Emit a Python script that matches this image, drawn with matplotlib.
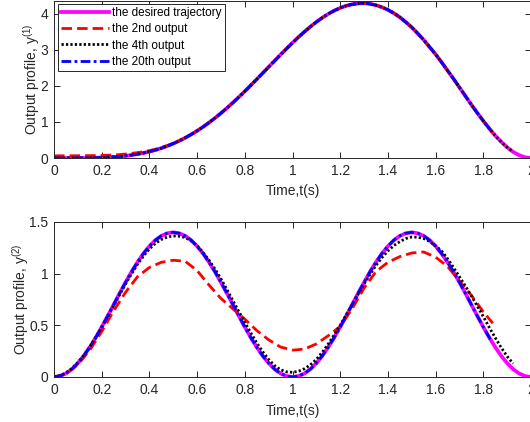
import matplotlib
matplotlib.use("Agg")
import matplotlib.pyplot as plt

plt.rcParams['font.family'] = ['Liberation Sans', 'DejaVu Sans']
plt.rcParams['mathtext.default'] = 'regular'

# ---------------- data ----------------
# fine time grid (step 0.025 s) for the desired trajectories
t_fine = [round(0.025 * k, 3) for k in range(81)]

# top panel: y^(1) desired
y1_desired = [0.000, 0.000, 0.000, 0.000, 0.001, 0.002, 0.004, 0.007, 0.012, 0.019,
              0.029, 0.042, 0.059, 0.081, 0.107, 0.139, 0.177, 0.221, 0.273, 0.332,
              0.400, 0.475, 0.560, 0.653, 0.754, 0.864, 0.983, 1.110, 1.245, 1.387,
              1.536, 1.692, 1.852, 2.018, 2.186, 2.357, 2.528, 2.700, 2.870, 3.037,
              3.200, 3.357, 3.506, 3.647, 3.777, 3.896, 4.001, 4.093, 4.168, 4.227,
              4.268, 4.290, 4.298, 4.280, 4.244, 4.188, 4.115, 4.022, 3.910, 3.775,
              3.630, 3.460, 3.280, 3.080, 2.880, 2.660, 2.430, 2.200, 1.960, 1.720,
              1.480, 1.250, 1.030, 0.820, 0.620, 0.450, 0.295, 0.170, 0.078, 0.020,
              0.000]

# top panel: 2nd output differs only at the start, stops at 1.84 s
y1_out2_start = [0.060, 0.061, 0.062, 0.062, 0.063, 0.064, 0.066, 0.068, 0.072, 0.077,
                 0.085, 0.095, 0.110, 0.128, 0.150, 0.175, 0.205, 0.243, 0.290, 0.345,
                 0.405]
t_out2 = t_fine[:74] + [1.84]
y1_out2 = y1_out2_start + y1_desired[21:74] + [0.700]

t_out4 = t_fine[:78] + [1.925]
y1_out4 = y1_desired[:78] + [0.170]

t_out20 = t_fine[:74] + [1.835]
y1_out20 = y1_desired[:74] + [0.740]

# bottom panel: y^(2)
y2_desired = [0.000, 0.009, 0.034, 0.076, 0.134, 0.205, 0.289, 0.382, 0.484, 0.591,
              0.700, 0.810, 0.916, 1.018, 1.111, 1.195, 1.266, 1.324, 1.366, 1.391,
              1.400, 1.391, 1.366, 1.324, 1.266, 1.195, 1.111, 1.018, 0.916, 0.810,
              0.700, 0.591, 0.484, 0.382, 0.289, 0.205, 0.134, 0.076, 0.034, 0.009,
              0.000, 0.009, 0.034, 0.076, 0.134, 0.205, 0.289, 0.382, 0.484, 0.591,
              0.700, 0.810, 0.916, 1.018, 1.111, 1.195, 1.266, 1.324, 1.366, 1.391,
              1.400, 1.391, 1.366, 1.324, 1.266, 1.195, 1.111, 1.018, 0.916, 0.810,
              0.700, 0.591, 0.484, 0.382, 0.289, 0.205, 0.134, 0.076, 0.034, 0.009,
              0.000]

t2_coarse = [0.00, 0.05, 0.10, 0.15, 0.20, 0.25, 0.30, 0.35, 0.40, 0.45,
             0.50, 0.55, 0.60, 0.65, 0.70, 0.75, 0.80, 0.85, 0.90, 0.95,
             1.00, 1.05, 1.10, 1.15, 1.20, 1.25, 1.30, 1.35, 1.40, 1.45,
             1.50, 1.55, 1.60, 1.65, 1.70, 1.75, 1.80, 1.84]
y2_out2 = [0.000, 0.030, 0.120, 0.260, 0.440, 0.640, 0.820, 0.970, 1.060, 1.110,
           1.130, 1.120, 1.030, 0.890, 0.760, 0.660, 0.560, 0.450, 0.360, 0.290,
           0.260, 0.270, 0.320, 0.400, 0.490, 0.660, 0.860, 1.020, 1.110, 1.165,
           1.200, 1.210, 1.160, 1.070, 0.930, 0.790, 0.630, 0.520]

y2_out4 = [0.000, 0.012, 0.040, 0.082, 0.140, 0.210, 0.290, 0.382, 0.480, 0.584,
           0.690, 0.797, 0.900, 0.998, 1.090, 1.170, 1.240, 1.293, 1.330, 1.355,
           1.365, 1.362, 1.350, 1.318, 1.270, 1.205, 1.130, 1.045, 0.950, 0.847,
           0.740, 0.633, 0.530, 0.428, 0.330, 0.245, 0.170, 0.110, 0.070, 0.050,
           0.045, 0.055, 0.080, 0.118, 0.170, 0.240, 0.320, 0.408, 0.500, 0.600,
           0.700, 0.802, 0.900, 0.993, 1.080, 1.155, 1.220, 1.272, 1.310, 1.340,
           1.355, 1.352, 1.340, 1.312, 1.270, 1.220, 1.145, 1.060, 0.970, 0.880,
           0.785, 0.685, 0.585, 0.480, 0.380, 0.285, 0.200, 0.130]

y2_out20 = y2_desired[:74] + [0.344]

labels = ['the desired trajectory', 'the 2nd output', 'the 4th output', 'the 20th output']
xticks = [0, 0.2, 0.4, 0.6, 0.8, 1, 1.2, 1.4, 1.6, 1.8, 2]
xtick_labels = ['0', '0.2', '0.4', '0.6', '0.8', '1', '1.2', '1.4', '1.6', '1.8', '2']
yticks_top = [0, 1, 2, 3, 4]
yticks_bot = [0, 0.5, 1, 1.5]
ytick_labels_bot = ['0', '0.5', '1', '1.5']

# ---------------- figure ----------------
W, H = 530, 422
fig = plt.figure(figsize=(W / 100, H / 100), dpi=100)

def px_axes(x0, y0, x1, y1):
    return fig.add_axes([x0 / W, 1 - y1 / H, (x1 - x0) / W, (y1 - y0) / H])

ax1 = px_axes(54, 1, 531, 158)
ax2 = px_axes(54, 222, 531, 377)

dark = '#262626'

def style(ax):
    for s in ax.spines.values():
        s.set_color(dark)
        s.set_linewidth(0.7)
    ax.tick_params(direction='in', length=4, width=0.7, colors=dark,
                   labelsize=10, top=True, right=True, pad=4)
    ax.set_xlim(0, 2)
    ax.set_xticks(xticks)
    ax.set_xticklabels(xtick_labels)
    ax.set_xlabel('Time,t(s)', fontsize=10, color=dark, labelpad=5)

def draw(ax, ydes, t2, y2, t4, y4, t20, y20):
    ax.plot(t_fine, ydes, color='#FF00FF', lw=2.7, label=labels[0])
    ax.plot(t2, y2, color='#FF0000', lw=2.0, dashes=(3.8, 1.8), label=labels[1])
    ax.plot(t4, y4, color='black', lw=2.0, dashes=(0.8, 0.8), label=labels[2])
    ax.plot(t20, y20, color='#0000FF', lw=2.0, dashes=(3.5, 1.2, 1.0, 1.2), label=labels[3])

draw(ax1, y1_desired, t_out2, y1_out2, t_out4, y1_out4, t_out20, y1_out20)
style(ax1)
ax1.set_ylim(0, 4.36)
ax1.set_yticks(yticks_top)
ax1.set_ylabel('Output profile, y$^{(1)}$', fontsize=10, color=dark, labelpad=-1)
leg = ax1.legend(loc='upper left', bbox_to_anchor=(0.008, 0.982), borderaxespad=0,
                 fontsize=8.5, handlelength=4.0, handletextpad=0.3,
                 labelspacing=0.35, borderpad=0.3, fancybox=False, framealpha=1)
leg.get_frame().set_edgecolor(dark)
leg.get_frame().set_linewidth(0.7)
for txt in leg.get_texts():
    txt.set_color('black')

draw(ax2, y2_desired, t2_coarse, y2_out2, t_fine[:78], y2_out4, t_out20, y2_out20)
style(ax2)
ax2.set_ylim(0, 1.5)
ax2.set_yticks(yticks_bot)
ax2.set_yticklabels(ytick_labels_bot)
ax2.set_ylabel('Output profile, y$^{(2)}$', fontsize=10, color=dark, labelpad=-1)

fig.savefig('out.png', dpi=100)
